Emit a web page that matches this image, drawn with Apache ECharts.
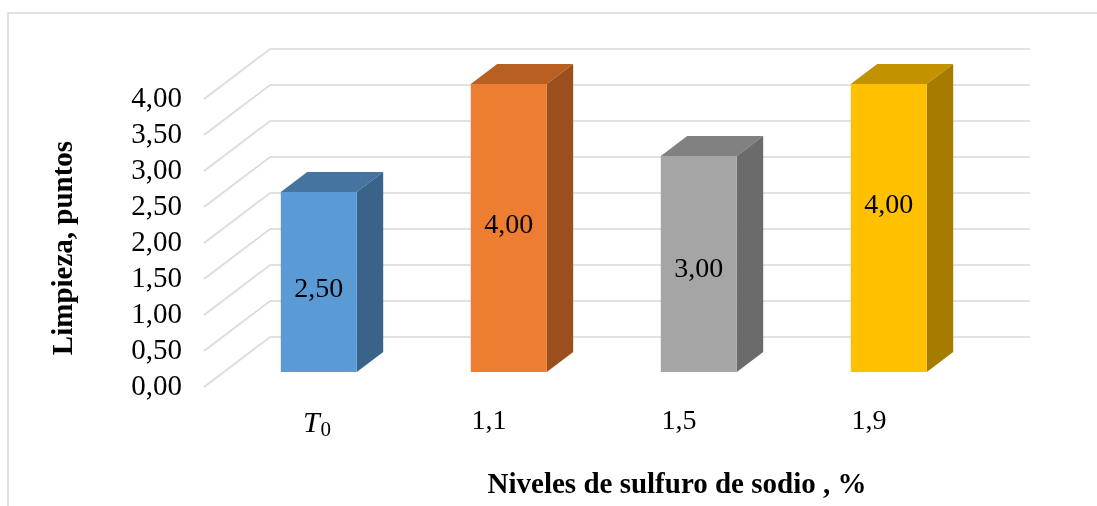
<!DOCTYPE html>
<html>
<head>
<meta charset="utf-8">
<script src="https://cdn.jsdelivr.net/npm/echarts@6/dist/echarts.min.js"></script>
<style>
  html, body { margin: 0; padding: 0; background: #fff; }
  #chart { width: 1097px; height: 506px; }
</style>
</head>
<body>
<div id="chart"></div>
<script>
// Data
const categories = ['T0', '1,1', '1,5', '1,9'];
const values = [2.5, 4.0, 3.0, 4.0];
const yTicks = [0, 0.5, 1, 1.5, 2, 2.5, 3, 3.5, 4];

// Face colours for each bar: front, top, side
const faceColors = [
  ['#5B9BD5', '#44749F', '#3A6389'],
  ['#ED7D31', '#B85F22', '#9A4F1D'],
  ['#A5A5A5', '#818181', '#6B6B6B'],
  ['#FFC000', '#C29200', '#A57C00']
];
// Vertical nudge of the value labels (px)
const labelNudge = [8, -2, 6, -22];

// Oblique depth of the plot box (px), and the slab of it the bars occupy
const DEPTH_X = 66, DEPTH_Y = -50;
const BAR_FRONT = 0.3, BAR_BACK = 0.7, BAR_WIDTH = 0.4;

const SERIF = '"Liberation Serif", "DejaVu Serif", serif';
const fmt = v => v.toFixed(2).replace('.', ',');

const chart = echarts.init(document.getElementById('chart'), null, { renderer: 'canvas' });

function renderWalls(params, api) {
  const cs = params.coordSys;
  const v = api.value(0);
  const y = api.coord([0, v])[1];
  const x0 = cs.x, x1 = cs.x + cs.width;
  const lineStyle = { stroke: '#D9D9D9', lineWidth: 1.6, fill: null };
  return {
    type: 'polyline',
    shape: { points: [[x0, y], [x0 + DEPTH_X, y + DEPTH_Y], [x1 + DEPTH_X, y + DEPTH_Y]] },
    style: lineStyle
  };
}

function renderBar(params, api) {
  const i = api.value(0);
  const v = api.value(1);
  const top = api.coord([i, v]);
  const base = api.coord([i, 0]);
  const half = api.size([1, 0])[0] * BAR_WIDTH / 2;
  const fx = DEPTH_X * BAR_FRONT, fy = DEPTH_Y * BAR_FRONT;
  const dx = DEPTH_X * (BAR_BACK - BAR_FRONT), dy = DEPTH_Y * (BAR_BACK - BAR_FRONT);
  const l = top[0] - half + fx, r = top[0] + half + fx;
  const t = top[1] + fy, b = base[1] + fy;
  const c = faceColors[params.dataIndex];
  return {
    type: 'group',
    children: [
      { type: 'polygon', shape: { points: [[l, t], [r, t], [r + dx, t + dy], [l + dx, t + dy]] }, style: { fill: c[1] } },
      { type: 'polygon', shape: { points: [[r, t], [r + dx, t + dy], [r + dx, b + dy], [r, b]] }, style: { fill: c[2] } },
      { type: 'rect', shape: { x: l, y: t, width: r - l, height: b - t }, style: { fill: c[0] } },
      {
        type: 'text',
        x: (l + r) / 2, y: (t + b) / 2 + labelNudge[params.dataIndex],
        style: {
          text: fmt(v), fill: '#000', font: '28px ' + SERIF,
          align: 'center', verticalAlign: 'middle'
        }
      }
    ]
  };
}

chart.setOption({
  animation: false,
  backgroundColor: '#fff',
  grid: { left: 204, top: 99, width: 760, height: 288, containLabel: false },
  xAxis: {
    type: 'category',
    data: categories,
    axisLine: { show: false },
    axisTick: { show: false },
    axisLabel: {
      margin: 21,
      fontFamily: SERIF, fontSize: 28, color: '#000',
      formatter: s => s === 'T0' ? '{t|T}{s|0}' : s,
      rich: {
        t: { fontFamily: SERIF, fontStyle: 'italic', fontSize: 30, color: '#000', padding: [0, 0, 0, 36] },
        s: { fontFamily: SERIF, fontSize: 21, color: '#000', verticalAlign: 'bottom', padding: [12, 0, 0, 1] }
      }
    }
  },
  yAxis: {
    type: 'value',
    min: 0, max: 4, interval: 0.5,
    axisLine: { show: false },
    axisTick: { show: false },
    splitLine: { show: false },
    axisLabel: { margin: 22, fontFamily: SERIF, fontSize: 29, color: '#000', formatter: v => fmt(v) }
  },
  graphic: [
    { type: 'rect', shape: { x: 8, y: 13, width: 1200, height: 600 }, style: { fill: null, stroke: '#D9D9D9', lineWidth: 1.5 }, z: -1 },
    {
      type: 'text', x: 65, y: 248, rotation: Math.PI / 2,
      style: { text: 'Limpieza, puntos', font: 'bold 29px ' + SERIF, fill: '#000', align: 'center', verticalAlign: 'middle' }
    },
    {
      type: 'text', x: 677, y: 486,
      style: { text: 'Niveles de sulfuro de sodio , %', font: 'bold 29px ' + SERIF, fill: '#000', align: 'center', verticalAlign: 'middle' }
    }
  ],
  series: [
    {
      type: 'custom',
      renderItem: renderWalls,
      data: yTicks.map(v => [v]),
      encode: { y: 0 },
      silent: true,
      z: 1
    },
    {
      type: 'custom',
      renderItem: renderBar,
      data: values.map((v, i) => [i, v]),
      encode: { x: 0, y: 1 },
      z: 2
    }
  ]
});
</script>
</body>
</html>
